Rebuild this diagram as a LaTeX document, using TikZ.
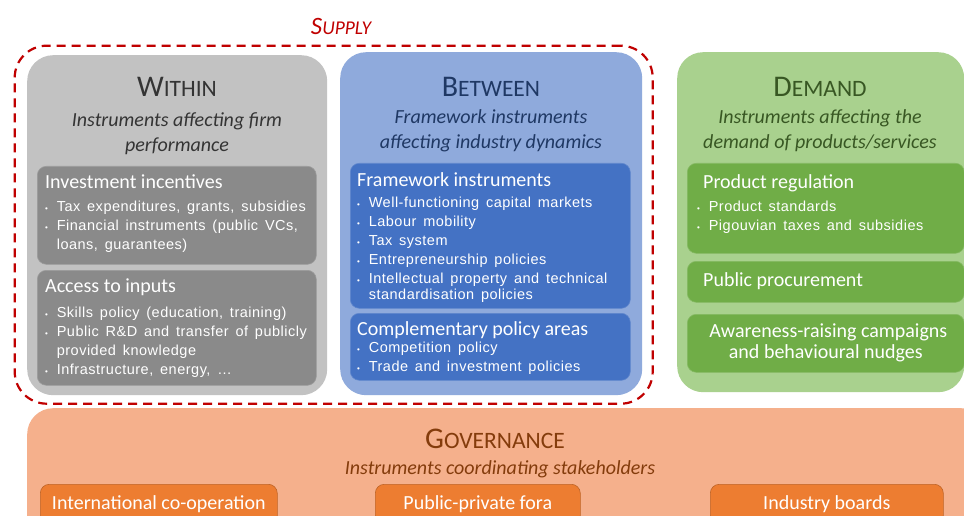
\documentclass[tikz,border=0pt]{standalone}
\usepackage{fontspec}
\setmainfont{Carlito}
\newfontfamily\itemfont[LetterSpace=3.5,WordSpace=1.5]{Liberation Sans}
\usetikzlibrary{positioning,fit}

\definecolor{supplyred}{RGB}{192,0,0}
\definecolor{withinbg}{RGB}{194,194,194}
\definecolor{withinbox}{RGB}{138,138,138}
\definecolor{withintxt}{RGB}{52,52,52}
\definecolor{betweenbg}{RGB}{143,170,220}
\definecolor{betweenbox}{RGB}{68,114,196}
\definecolor{betweentxt}{RGB}{31,56,100}
\definecolor{demandbg}{RGB}{169,209,142}
\definecolor{demandbox}{RGB}{112,173,71}
\definecolor{demandtxt}{RGB}{56,87,35}
\definecolor{govbg}{RGB}{245,176,140}
\definecolor{govbox}{RGB}{237,125,49}
\definecolor{govtxt}{RGB}{132,60,12}

% small caps by hand: first letter big, rest smaller
\newcommand{\bigsmall}[2]{{\fontsize{30}{32}\selectfont #1}{\fontsize{23.5}{32}\selectfont #2}}
\newcommand{\bul}{\makebox[.8em][l]{\raisebox{.1ex}{\scalebox{.55}{\textbullet}}}}
\newcommand{\cnt}{\hspace*{.8em}}

\begin{document}
\begin{tikzpicture}[x=1pt, y=-1pt,
  panel/.style={anchor=north west, rounded corners=26pt, inner sep=0pt},
  subbox/.style={anchor=north west, rounded corners=9pt, inner sep=0pt, line width=.6pt},
  ttl/.style={anchor=base, inner sep=0pt},
  sub/.style={font=\fontsize{20}{25}\selectfont\itshape, align=center, anchor=north, inner sep=0pt},
  head/.style={font=\fontsize{20}{22}\selectfont, text=white, anchor=base west, inner sep=0pt, text height=14pt, text depth=4pt},
  items/.style={font=\itemfont\fontsize{14.5}{19}\selectfont, text=white, align=left, inner sep=0pt},
  govitem/.style={subbox, fill=govbox, draw=govbox!80!black, minimum height=40pt, font=\fontsize{20}{22}\selectfont, text=white}
]
\useasboundingbox (0,0) rectangle (964,516);
\fill[white] (0,0) rectangle (964,516);

% the three columns
\node[panel, fill=withinbg, minimum width=300pt, minimum height=340pt] (within) at (27,55) {};
\node[panel, fill=betweenbg, minimum width=302pt, minimum height=343pt] (between) at (340,52) {};
\node[panel, fill=demandbg, minimum width=287pt, minimum height=340pt] (demand) at (677,52) {};

% governance band along the bottom
\node[panel, fill=govbg, minimum width=960pt, minimum height=140pt] (gov) at (27,408) {};

% supply frame round within and between
\node[draw=supplyred, line width=2.2pt, dash pattern=on 9pt off 6pt, rounded corners=32pt,
      inner sep=0pt, fit=(within)(between), xshift=-1pt, yshift=-1pt,
      minimum width=638pt, minimum height=358pt] (supply) {};
\node[text=supplyred, font=\itshape, anchor=base] (supplyT) at (341,35)
  {{\fontsize{25}{26}\selectfont S}{\fontsize{19.5}{26}\selectfont UPPLY}};

% --- Within
\node[ttl, text=withintxt] (withinT) at (177,97) {\bigsmall{W}{ITHIN}};
\node[sub, text=withintxt] (withinS) at (177,112) {Instruments affecting firm\\performance};

\node[subbox, fill=withinbox, draw=withinbox!85!white, minimum width=279pt, minimum height=98pt] (invest) at (37,166) {};
\node[head] (investH) at (45,188) {Investment incentives};
\node[items, below=9pt of investH.south west, anchor=north west] (investL)
  {\bul Tax expenditures, grants, subsidies\\
   \bul Financial instruments (public VCs,\\
   \cnt loans, guarantees)};

\node[subbox, fill=withinbox, draw=withinbox!85!white, minimum width=279pt, minimum height=115pt] (access) at (37,270) {};
\node[head] (accessH) at (45,292) {Access to inputs};
\node[items, below=11pt of accessH.south west, anchor=north west] (accessL)
  {\bul Skills policy (education, training)\\
   \bul Public R\&D and transfer of publicly\\
   \cnt provided knowledge\\
   \bul Infrastructure, energy, \dots};

% --- Between
\node[ttl, text=betweentxt] (betweenT) at (491,97) {\bigsmall{B}{ETWEEN}};
\node[sub, text=betweentxt] (betweenS) at (491,109) {Framework instruments\\affecting industry dynamics};

\node[subbox, fill=betweenbox, draw=betweenbox!85!white, minimum width=280pt, minimum height=145pt] (frame) at (350,163) {};
\node[head] (frameH) at (357,186) {Framework instruments};
\node[items, below=7pt of frameH.south west, anchor=north west] (frameL)
  {\bul Well-functioning capital markets\\
   \bul Labour mobility\\
   \bul Tax system\\
   \bul Entrepreneurship policies\\
   \bul Intellectual property and technical\\[-3pt]
   \cnt standardisation policies};

\node[subbox, fill=betweenbox, draw=betweenbox!85!white, minimum width=280pt, minimum height=67pt] (compl) at (350,313) {};
\node[head] (complH) at (357,335) {Complementary policy areas};
\node[items, below=3pt of complH.south west, anchor=north west] (complL)
  {\bul Competition policy\\
   \bul Trade and investment policies};

% --- Demand
\node[ttl, text=demandtxt] (demandT) at (820,97) {\bigsmall{D}{EMAND}};
\node[sub, text=demandtxt] (demandS) at (820,109) {Instruments affecting the\\demand of products/services};

\node[subbox, fill=demandbox, draw=demandbox!85!white, minimum width=277pt, minimum height=90pt] (prodreg) at (687,163) {};
\node[head] (prodregH) at (703,189) {Product regulation};
\node[items, below=8pt of prodregH.south west, anchor=north west, xshift=-6pt] (prodregL)
  {\bul Product standards\\
   \bul Pigouvian taxes and subsidies};

\node[subbox, fill=demandbox, draw=demandbox!85!white, minimum width=277pt, minimum height=41pt] (procure) at (687,261) {};
\node[head] (procureH) at (703,286) {Public procurement};

\node[subbox, fill=demandbox, draw=demandbox!85!white, minimum width=277pt, minimum height=58pt] (aware) at (687,314) {};
\node[sub, font=\fontsize{20}{21}\selectfont, text=white, anchor=center] (awareT) at (aware.center)
  {\phantom{.}Awareness-raising campaigns\\and behavioural nudges};

% --- Governance
\node[ttl, text=govtxt] (govT) at (495,448) {\bigsmall{G}{OVERNANCE}};
\node[ttl, text=govtxt, font=\fontsize{20}{22}\selectfont\itshape] (govS) at (500,474) {Instruments coordinating stakeholders};

\node[govitem, minimum width=237pt] (intl) at (40,484) {International co-operation};
\node[govitem, minimum width=205pt] (fora) at (375,484) {Public-private fora};
\node[govitem, minimum width=233pt] (boards) at (710,484) {Industry boards};

\end{tikzpicture}
\end{document}
